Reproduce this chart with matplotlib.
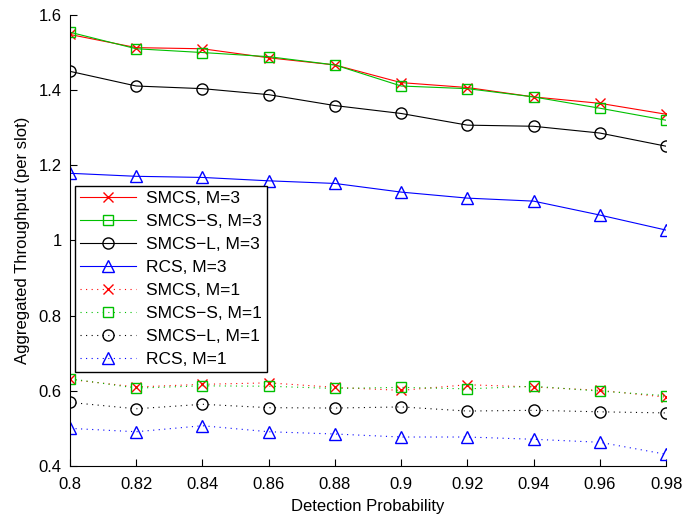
import matplotlib
matplotlib.use("Agg")
import matplotlib.pyplot as plt
from matplotlib.ticker import FuncFormatter

plt.rcParams['font.family'] = ['Liberation Sans', 'DejaVu Sans']

x = [0.80, 0.82, 0.84, 0.86, 0.88, 0.90, 0.92, 0.94, 0.96, 0.98]

smcs_m3   = [1.547, 1.512, 1.509, 1.485, 1.466, 1.419, 1.406, 1.381, 1.364, 1.335]
smcss_m3  = [1.553, 1.509, 1.499, 1.488, 1.466, 1.410, 1.403, 1.381, 1.351, 1.319]
smcsl_m3  = [1.449, 1.410, 1.403, 1.387, 1.358, 1.337, 1.306, 1.303, 1.285, 1.250]
rcs_m3    = [1.178, 1.170, 1.167, 1.158, 1.151, 1.128, 1.112, 1.104, 1.067, 1.027]

smcs_m1   = [0.630, 0.610, 0.617, 0.621, 0.609, 0.601, 0.616, 0.610, 0.601, 0.583]
smcss_m1  = [0.632, 0.607, 0.613, 0.612, 0.606, 0.609, 0.605, 0.612, 0.599, 0.587]
smcsl_m1  = [0.569, 0.552, 0.564, 0.555, 0.554, 0.557, 0.546, 0.548, 0.544, 0.541]
rcs_m1    = [0.500, 0.491, 0.507, 0.491, 0.485, 0.477, 0.477, 0.471, 0.463, 0.431]

labels = ['SMCS, M=3', 'SMCS\u2212S, M=3', 'SMCS\u2212L, M=3', 'RCS, M=3',
          'SMCS, M=1', 'SMCS\u2212S, M=1', 'SMCS\u2212L, M=1', 'RCS, M=1']

red, green, black, blue = '#ff0000', '#00c000', '#000000', '#0000ff'

fig = plt.figure(figsize=(6.86, 5.21), dpi=100)
ax = fig.add_axes([0.102, 0.1056, 0.869, 0.8665])

lw = 0.8
mfc = 'none'
dot = (0, (1, 4))
ax.plot(x, smcs_m3, '-', color=red, marker='x', ms=7, lw=lw, label=labels[0])
ax.plot(x, smcss_m3, '-', color=green, marker='s', ms=7, mfc=mfc, lw=lw, label=labels[1])
ax.plot(x, smcsl_m3, '-', color=black, marker='o', ms=8, mfc=mfc, lw=lw, label=labels[2])
ax.plot(x, rcs_m3, '-', color=blue, marker='^', ms=8, mfc=mfc, lw=lw, label=labels[3])
ax.plot(x, smcs_m1, linestyle=dot, color=red, marker='x', ms=7, lw=lw, label=labels[4])
ax.plot(x, smcss_m1, linestyle=dot, color=green, marker='s', ms=7, mfc=mfc, lw=lw, label=labels[5])
ax.plot(x, smcsl_m1, linestyle=dot, color=black, marker='o', ms=8, mfc=mfc, lw=lw, label=labels[6])
ax.plot(x, rcs_m1, linestyle=dot, color=blue, marker='^', ms=8, mfc=mfc, lw=lw, label=labels[7])

ax.set_xlim(0.8, 0.98)
ax.set_ylim(0.4, 1.6)
ax.set_xticks(x)
ax.set_yticks([0.4, 0.6, 0.8, 1.0, 1.2, 1.4, 1.6])
fmt = FuncFormatter(lambda v, p: '%g' % round(v, 4))
ax.xaxis.set_major_formatter(fmt)
ax.yaxis.set_major_formatter(fmt)
ax.tick_params(direction='in', labelsize=12, length=5, width=0.8)
ax.tick_params(axis='x', pad=8)
ax.tick_params(axis='y', pad=6)
for s in ['top', 'right']:
    ax.spines[s].set_visible(False)
for s in ['left', 'bottom']:
    ax.spines[s].set_linewidth(0.8)

ax.set_xlabel('Detection Probability', fontsize=12, labelpad=5)
ax.set_ylabel('Aggregated Throughput (per slot)', fontsize=12, labelpad=6)

leg = ax.legend(loc='upper left', bbox_to_anchor=(0.008, 0.621), fontsize=12.5,
                frameon=True, fancybox=False, edgecolor='black', framealpha=1,
                borderaxespad=0, handlelength=3.2, labelspacing=0.45,
                borderpad=0.3, handletextpad=0.6)
leg.get_frame().set_linewidth(1.0)

fig.savefig('out.png', dpi=100)
